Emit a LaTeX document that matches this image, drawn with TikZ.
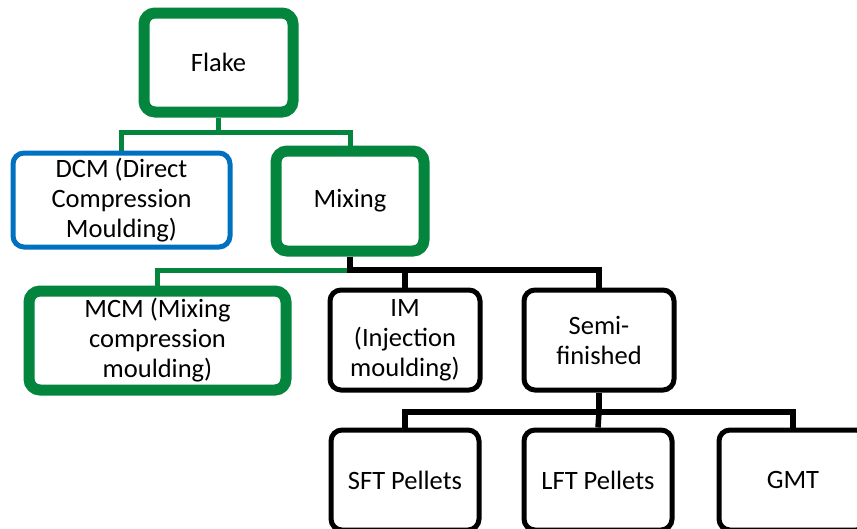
\documentclass[tikz,border=0pt]{standalone}
\usepackage{fontspec}
\setmainfont{Carlito}
\usetikzlibrary{backgrounds}
\definecolor{pgreen}{RGB}{4,133,62}
\definecolor{pblue}{RGB}{0,112,192}
\tikzset{
  box/.style={rectangle, rounded corners=11pt, fill=white, align=center,
    font=\fontsize{26.5}{30}\selectfont, inner sep=0pt},
  gbox/.style={box, draw=pgreen, line width=11pt},
  bbox/.style={box, draw=pblue, line width=5pt},
  kbox/.style={box, draw=black, line width=5pt},
  glink/.style={draw=pgreen, line width=5pt},
  klink/.style={draw=black, line width=5.5pt},
}
\begin{document}
\begin{tikzpicture}[x=1pt,y=-1pt]
\useasboundingbox (0,0) rectangle (857,528);
\clip (0,0) rectangle (857,528);
% nodes
\node[gbox, minimum width=149pt, minimum height=99pt] (flake) at (218.5,62.5) {Flake};
\node[bbox, minimum width=217pt, minimum height=94pt] (dcm) at (121.5,200) {DCM (Direct\\Compression\\Moulding)};
\node[gbox, minimum width=148pt, minimum height=100pt] (mix) at (350,201) {Mixing};
\node[gbox, minimum width=257pt, minimum height=99pt] (mcm) at (157.5,340.5) {MCM (Mixing\\compression\\moulding)};
\node[kbox, minimum width=150pt, minimum height=100pt] (im) at (405,340) {IM\\(Injection\\moulding)};
\node[kbox, minimum width=150pt, minimum height=100pt] (semi) at (599,340) {Semi-\\finished};
\node[kbox, minimum width=148pt, minimum height=100pt] (sft) at (405,480) {SFT Pellets};
\node[kbox, minimum width=148pt, minimum height=100pt] (lft) at (598,480) {LFT Pellets};
\node[kbox, minimum width=148pt, minimum height=100pt] (gmt) at (793,480) {GMT};
% junctions
\coordinate (j1) at (218.5,132);
\coordinate (j2) at (350,270);
\coordinate (j3) at (599,412);
% connectors, behind the boxes
\begin{pgfonlayer}{background}
\path[glink] (flake.south) -- (j1) -| (dcm.north);
\path[glink] (j1) -| (mix.north);
\path[glink] (j2) -| (mcm.north);
\path[klink] (mix.south) -- (j2) -| (im.north);
\path[klink] (j2) -| (semi.north);
\path[klink] (semi.south) -- (j3) -| (sft.north);
\path[klink] (j3) -- (lft.north);
\path[klink] (j3) -| (gmt.north);
\end{pgfonlayer}
\end{tikzpicture}
\end{document}
